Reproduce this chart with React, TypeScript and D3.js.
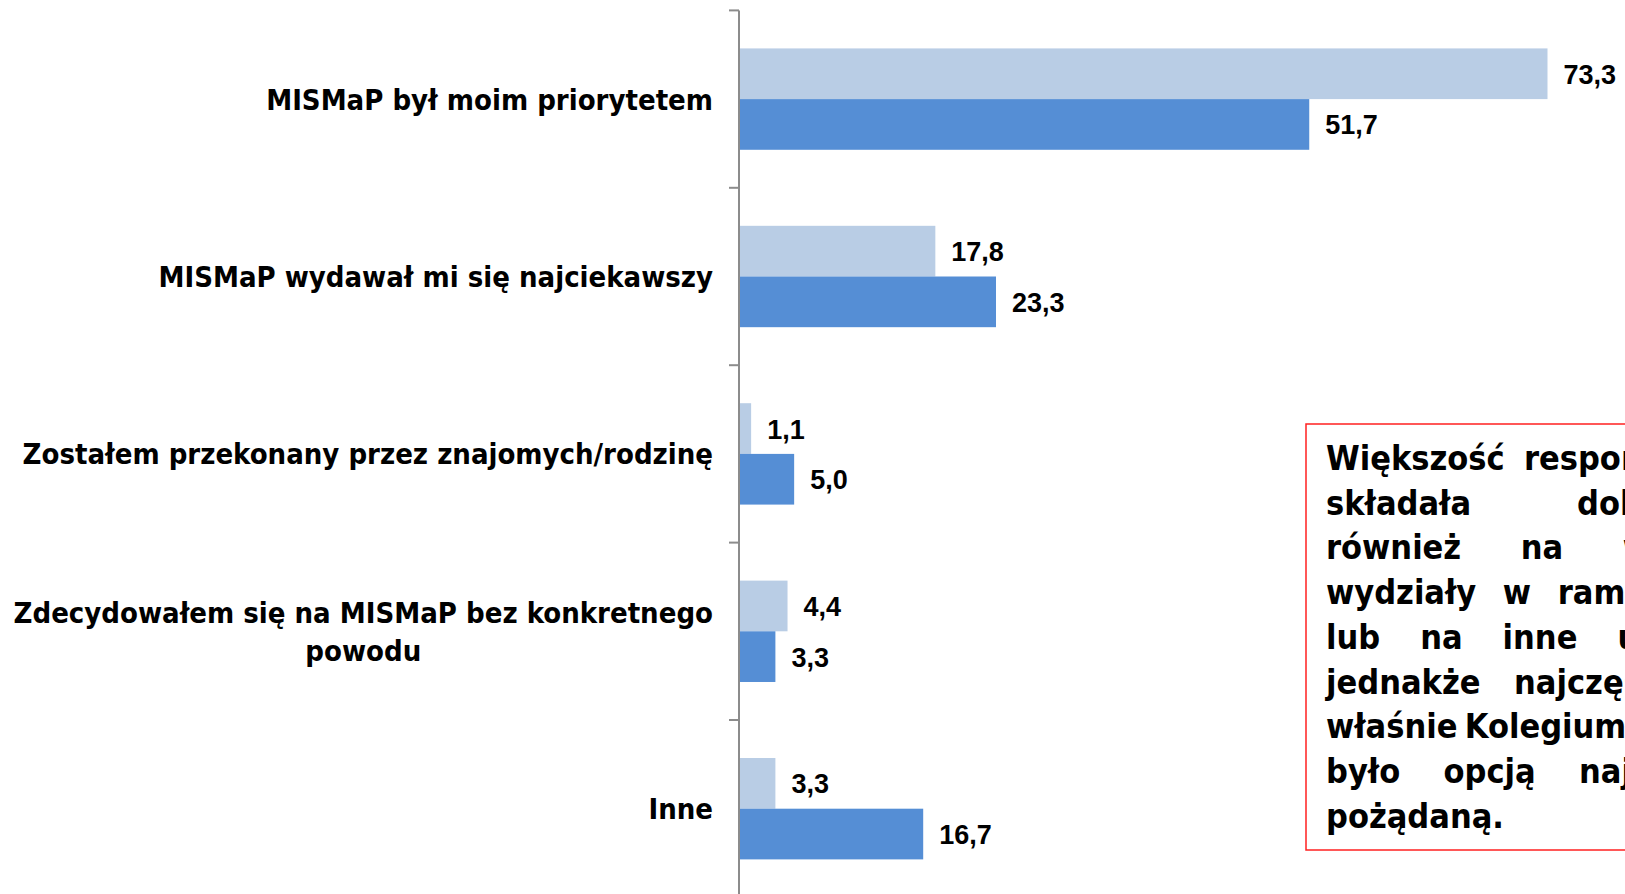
import React, { useEffect, useRef } from 'react';
import * as d3 from 'd3';

// categories (a "\n" marks where the label breaks)
const categories = [
  'MISMaP był moim priorytetem',
  'MISMaP wydawał mi się najciekawszy',
  'Zostałem przekonany przez znajomych/rodzinę',
  'Zdecydowałem się na MISMaP bez konkretnego\npowodu',
  'Inne',
];
const seriesKeys = ['light', 'dark'];
const valuesLight = [73.3, 17.8, 1.1, 4.4, 3.3];
const valuesDark = [51.7, 23.3, 5.0, 3.3, 16.7];
const xDomain = [0, 80];

// note box text, one entry per (justified) line
const noteLines = [
  'Większość respondentów',
  'składała dokumenty',
  'również na wybrane',
  'wydziały w ramach UW',
  'lub na inne uczelnie,',
  'jednakże najczęściej to',
  'właśnie Kolegium MISMaP',
  'było opcją najbardziej',
  'pożądaną.',
];

const W = 1625;
const H = 894;
const labelFont = "'DejaVu Sans Condensed', 'DejaVu Sans', sans-serif";
const valueFont = "'Liberation Sans', Arial, sans-serif";

const App = () => {
  const svgRef = useRef(null);

  useEffect(() => {
    const svg = d3.select(svgRef.current);
    svg.selectAll('*').remove();

    const axisX = 739;
    const y = d3.scaleBand().domain(categories).range([10.4, 897.4]).padding(0);
    const ySeries = d3
      .scaleBand()
      .domain(seriesKeys)
      .range([0, y.step()])
      .paddingInner(0)
      .paddingOuter(0.75);
    const x = d3.scaleLinear().domain(xDomain).range([axisX, 1621.4]);
    const colors = { light: '#B9CDE5', dark: '#558ED5' };

    const rows = categories.map((c, i) => ({
      cat: c,
      light: valuesLight[i],
      dark: valuesDark[i],
    }));

    // bars
    const groups = svg
      .append('g')
      .selectAll('g')
      .data(rows)
      .join('g')
      .attr('transform', (d) => `translate(0,${y(d.cat)})`);

    seriesKeys.forEach((k) => {
      groups
        .append('rect')
        .attr('x', x(0))
        .attr('y', ySeries(k))
        .attr('width', (d) => x(d[k]) - x(0))
        .attr('height', ySeries.bandwidth())
        .attr('fill', colors[k]);

      groups
        .append('text')
        .attr('x', (d) => x(d[k]) + 16)
        .attr('y', ySeries(k) + ySeries.bandwidth() / 2 + 10)
        .attr('font-family', valueFont)
        .attr('font-weight', 'bold')
        .attr('font-size', 27)
        .attr('fill', '#000')
        .text((d) => d3.format('.1f')(d[k]).replace('.', ','));
    });

    // axis line and ticks between categories
    const axis = svg.append('g').attr('stroke', '#8C8C8C').attr('stroke-width', 2);
    axis
      .append('line')
      .attr('x1', axisX)
      .attr('x2', axisX)
      .attr('y1', y.range()[0])
      .attr('y2', y.range()[1]);
    const tickYs = categories.map((c) => y(c)).concat([y.range()[1]]);
    axis
      .selectAll('line.tick')
      .data(tickYs)
      .join('line')
      .attr('class', 'tick')
      .attr('x1', axisX - 10)
      .attr('x2', axisX)
      .attr('y1', (d) => d)
      .attr('y2', (d) => d);

    // category labels
    const labelRight = 713;
    const labelSize = 29;
    const lineGap = 38;
    categories.forEach((c) => {
      const lines = c.split('\n');
      const cy = y(c) + y.bandwidth() / 2;
      const t = svg
        .append('text')
        .attr('font-family', labelFont)
        .attr('font-stretch', 'condensed')
        .attr('font-weight', 'bold')
        .attr('font-size', labelSize)
        .attr('fill', '#000');
      const first = cy - ((lines.length - 1) * lineGap) / 2 + labelSize * 0.36;
      const spans = lines.map((l, i) =>
        t.append('tspan').attr('y', first + i * lineGap).text(l)
      );
      if (lines.length === 1) {
        spans[0].attr('x', labelRight).attr('text-anchor', 'end');
      } else {
        const widest = d3.max(spans, (s) => s.node().getComputedTextLength());
        const mid = labelRight - widest / 2;
        spans.forEach((s) => s.attr('x', mid).attr('text-anchor', 'middle'));
      }
    });

    // note box
    const box = { x: 1306, y: 424, w: 500, h: 426 };
    svg
      .append('rect')
      .attr('x', box.x)
      .attr('y', box.y)
      .attr('width', box.w)
      .attr('height', box.h)
      .attr('fill', '#fff')
      .attr('stroke', '#FF2020')
      .attr('stroke-width', 1.5);

    const textLeft = 1326;
    const textWidth = 445;
    const note = svg
      .append('g')
      .attr('font-family', labelFont)
      .attr('font-stretch', 'condensed')
      .attr('font-weight', 'bold')
      .attr('font-size', 34)
      .attr('fill', '#000');
    noteLines.forEach((line, i) => {
      const by = 470 + i * 44.7;
      const words = line.split(' ');
      const nodes = words.map((w) => note.append('text').attr('y', by).text(w));
      const lens = nodes.map((n) => n.node().getComputedTextLength());
      const last = i === noteLines.length - 1;
      const gap = last || words.length < 2
        ? 10
        : (textWidth - d3.sum(lens)) / (words.length - 1);
      let cx = textLeft;
      nodes.forEach((n, j) => {
        n.attr('x', cx);
        cx += lens[j] + gap;
      });
    });
  }, []);

  return (
    <svg
      ref={svgRef}
      width={W}
      height={H}
      style={{ position: 'absolute', left: 0, top: 0, display: 'block', background: '#fff' }}
    ></svg>
  );
};

export default App;
